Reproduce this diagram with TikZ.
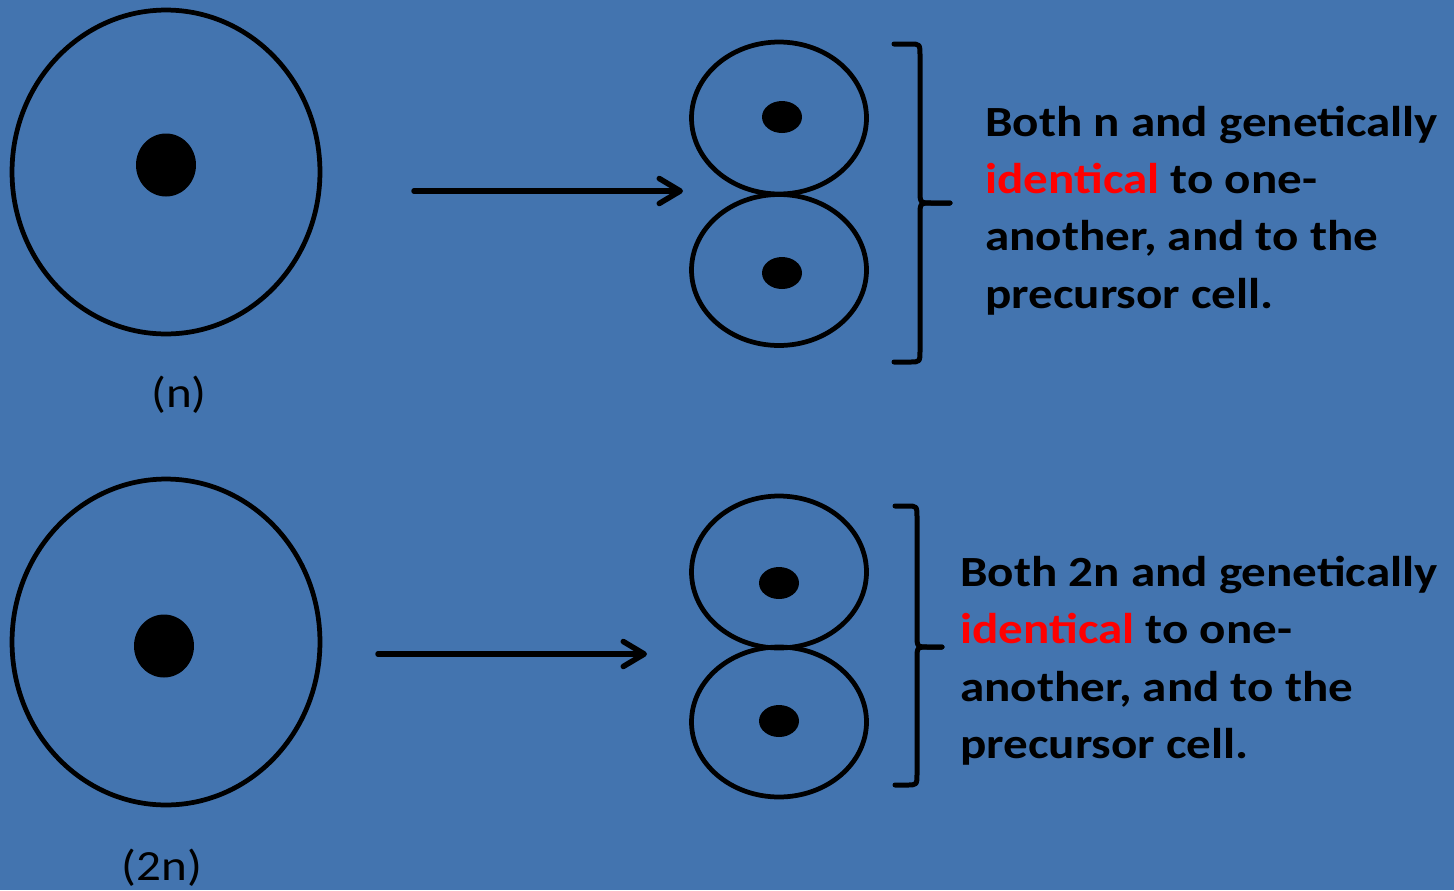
\documentclass[tikz,border=0pt]{standalone}
\usepackage{fontspec}
\setmainfont{Carlito}[FakeStretch=1.14]
\usetikzlibrary{arrows.meta,shapes.geometric}
\definecolor{slideblue}{RGB}{67,116,175}
\definecolor{markred}{RGB}{255,0,0}

\begin{document}
\begin{tikzpicture}[x=0.02cm, y=-0.02cm,
	cellwall/.style={draw=black, line width=0.095cm, ellipse, inner sep=0pt},
	nucleus/.style={fill=black, ellipse, inner sep=0pt},
	divide/.style={line width=0.11cm, line cap=round, -{Straight Barb[length=0.42cm, width=0.5cm, round]}},
	bracket/.style={line width=0.1cm, line cap=round, line join=round},
	note/.style={anchor=base west, align=left, inner sep=0pt, font=\fontsize{24.5}{32.45}\selectfont\bfseries},
	ploidy/.style={inner sep=0pt, font=\fontsize{24.5}{30}\selectfont}]
			%%%%% START %%%%%
			
			\fill[slideblue] (0, 0) rectangle (1454, 890);
			\useasboundingbox (0, 0) rectangle (1454, 890);
			
			% haploid cell and its two daughters
			\node[cellwall, minimum width=6.16cm, minimum height=6.48cm] (parentN) at (166, 172) {};
			\node[nucleus, minimum width=1.2cm, minimum height=1.26cm] (parentNnuc) at (166, 165) {};
			\node[ploidy] (labelN) at (179, 395) {(n)};
			
			\coordinate (startN) at (414, 191);
			\coordinate (endN) at (683, 191);
			\draw[divide] (startN) -- (endN);
			
			\node[cellwall, minimum width=3.5cm, minimum height=3.04cm] (daughterNa) at (779, 118) {};
			\node[nucleus, minimum width=0.8cm, minimum height=0.64cm] (daughterNanuc) at (782, 117) {};
			\node[cellwall, minimum width=3.5cm, minimum height=3.02cm] (daughterNb) at (779, 270) {};
			\node[nucleus, minimum width=0.8cm, minimum height=0.64cm] (daughterNbnuc) at (782, 273) {};
			
			\draw[bracket] (894, 44) -- (910, 44) .. controls (920, 44) .. (920, 56) -- (920, 190)
				.. controls (920, 203) .. (932, 203) -- (950, 203);
			\draw[bracket] (950, 203) -- (932, 203) .. controls (920, 203) .. (920, 216) -- (920, 350)
				.. controls (920, 362) .. (910, 362) -- (894, 362);
			
			\node[note] (noteN) at (985, 308) {Both n and genetically\\\textcolor{markred}{identical} to one-\\another, and to the\\precursor cell.};
			
			% diploid cell and its two daughters
			\node[cellwall, minimum width=6.16cm, minimum height=6.52cm] (parentD) at (166, 642) {};
			\node[nucleus, minimum width=1.2cm, minimum height=1.26cm] (parentDnuc) at (164, 646) {};
			\node[ploidy] (labelD) at (162, 868) {(2n)};
			
			\coordinate (startD) at (378, 654);
			\coordinate (endD) at (647, 654);
			\draw[divide] (startD) -- (endD);
			
			\node[cellwall, minimum width=3.5cm, minimum height=3.04cm] (daughterDa) at (779, 572) {};
			\node[nucleus, minimum width=0.8cm, minimum height=0.64cm] (daughterDanuc) at (779, 583) {};
			\node[cellwall, minimum width=3.5cm, minimum height=3.0cm] (daughterDb) at (779, 722) {};
			\node[nucleus, minimum width=0.8cm, minimum height=0.64cm] (daughterDbnuc) at (779, 721) {};
			
			\draw[bracket] (895, 506) -- (907, 506) .. controls (917, 506) .. (917, 518) -- (917, 635)
				.. controls (917, 647) .. (929, 647) -- (942, 647);
			\draw[bracket] (942, 647) -- (929, 647) .. controls (917, 647) .. (917, 659) -- (917, 773)
				.. controls (917, 785) .. (907, 785) -- (895, 785);
			
			\node[note] (noteD) at (960, 758) {Both 2n and genetically\\\textcolor{markred}{identical} to one-\\another, and to the\\precursor cell.};
			
			%%%%% END %%%%%
		\end{tikzpicture}
\end{document}
